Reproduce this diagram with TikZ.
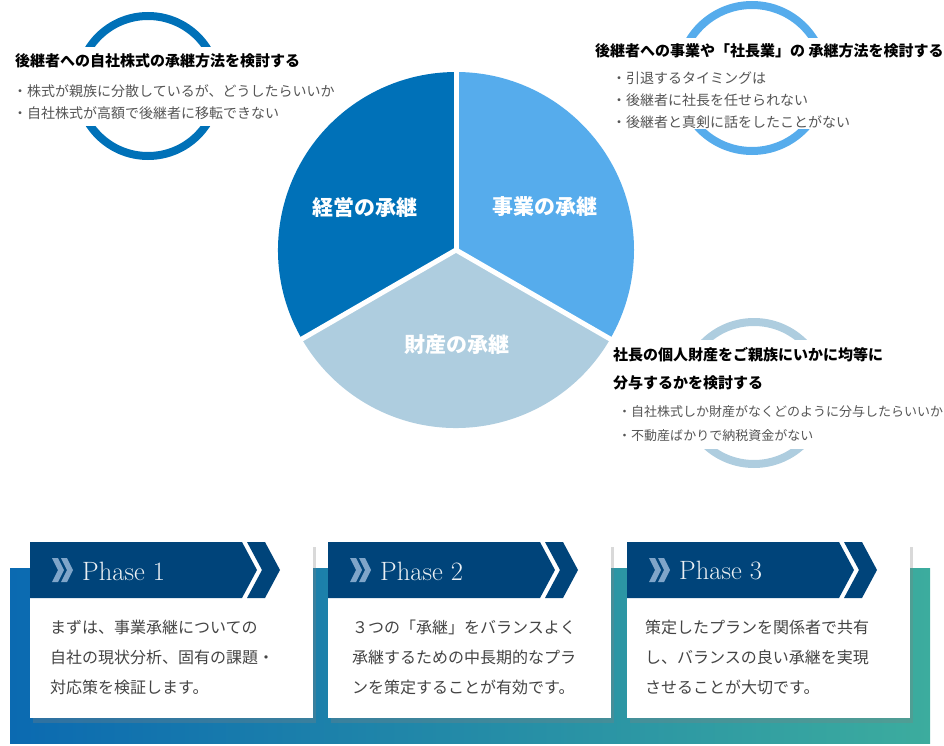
\documentclass[tikz,border=0pt]{standalone}
\usepackage{fontspec}
\newfontfamily\jp{Noto Sans CJK JP}
\usetikzlibrary{shadows}
\definecolor{keiei}{HTML}{0071B8}
\definecolor{jigyo}{HTML}{56ACEC}
\definecolor{zaisan}{HTML}{AECDDF}
\definecolor{navy}{HTML}{00447A}
\definecolor{chev}{HTML}{7FA5C9}
\definecolor{bandL}{HTML}{0B6AB1}
\definecolor{bandR}{HTML}{3CAC9E}
\definecolor{txt}{HTML}{444444}
\definecolor{note}{HTML}{555555}
\begin{document}
\begin{tikzpicture}[x=1pt,y=-1pt,
  head/.style={font=\jp\bfseries\fontsize{15}{28}\selectfont,inner sep=0,anchor=west,align=left},
  bullet/.style={font=\jp\fontsize{14}{22}\selectfont,text=note,inner sep=0,anchor=west,align=left},
  pielabel/.style={font=\jp\bfseries\fontsize{21}{24}\selectfont,text=white},
  ring/.style={line width=8pt},
  card/.style={fill=white,drop shadow={shadow xshift=3pt,shadow yshift=-5pt,opacity=.3}},
  phase/.style={font=\fontsize{26.5}{30}\selectfont,text=white!92!navy,inner sep=0,anchor=west},
  body/.style={font=\jp\fontsize{16}{30}\selectfont,text=txt,inner sep=0,anchor=west,align=left}]
\useasboundingbox (0,0) rectangle (944,746);

% rings behind the texts
\draw[ring,keiei] (148,86) circle[radius=70];
\fill[white] (60,47) rectangle (250,126);
\draw[ring,jigyo] (752,78) circle[radius=73];
\fill[white] (660,38) rectangle (850,129);
\draw[ring,zaisan] (754,393) circle[radius=71];
\fill[white] (660,340) rectangle (850,449);

% pie
\coordinate (pie) at (456,250);
\fill[keiei] (pie) -- ++(150:178) arc[start angle=150,end angle=270,radius=178] -- cycle;
\fill[jigyo] (pie) -- ++(270:178) arc[start angle=270,end angle=390,radius=178] -- cycle;
\fill[zaisan] (pie) -- ++(30:178) arc[start angle=30,end angle=150,radius=178] -- cycle;
\foreach \a in {30,150,270}
  \draw[white,line width=5pt] (pie) -- ++(\a:182);
\node[pielabel] (keieiL) at (365,207) {経営の承継};
\node[pielabel] (jigyoL) at (545,207) {事業の承継};
\node[pielabel] (zaisanL) at (457,345) {財産の承継};

% texts
\node[head] (keieiH) at (15,61) {後継者への自社株式の承継方法を検討する};
\node[bullet] (keieiB) at (13,102) {・株式が親族に分散しているが、どうしたらいいか\\・自社株式が高額で後継者に移転できない};
\node[head] (jigyoH) at (595,51) {後継者への事業や「社長業」の 承継方法を検討する};
\node[bullet] (jigyoB) at (612,100) {・引退するタイミングは\\・後継者に社長を任せられない\\・後継者と真剣に話をしたことがない};
\node[head] (zaisanH) at (613,369) {社長の個人財産をご親族にいかに均等に\\分与するかを検討する};
\node[bullet,font=\jp\fontsize{13}{24}\selectfont] (zaisanB) at (618,424) {・自社株式しか財産がなくどのように分与したらいいか\\・不動産ばかりで納税資金がない};

% phases
\shade[left color=bandL,right color=bandR] (10,568) rectangle (930,743);
\foreach \x/\n/\dx/\txt in {30/1/20/{まずは、事業承継についての\\自社の現状分析、固有の課題・\\対応策を検証します。},
  328/2/24/{３つの「承継」をバランスよく\\承継するための中長期的なプラ\\ンを策定することが有効です。},
  627/3/18/{策定したプランを関係者で共有\\し、バランスの良い承継を実現\\させることが大切です。}}
{
  \fill[card] (\x,542) rectangle ++(283,176);
  \fill[navy] (\x,542) -- ++(212,0) -- ++(15,28) -- ++(-15,28) -- ++(-212,0) -- cycle;
  \fill[navy] (\x+217,542) -- ++(18,0) -- ++(15,28) -- ++(-15,28) -- ++(-18,0) -- ++(15,-28) -- cycle;
  \fill[chev] (\x+22,558) -- ++(6,0) -- ++(6,12) -- ++(-6,12) -- ++(-6,0) -- ++(6,-12) -- cycle;
  \fill[chev] (\x+31,558) -- ++(6,0) -- ++(6,12) -- ++(-6,12) -- ++(-6,0) -- ++(6,-12) -- cycle;
  \node[phase] (phase\n) at (\x+52,571) {Phase \n};
  \node[body] (body\n) at (\x+\dx,657) {\txt};
}
\end{tikzpicture}
\end{document}
